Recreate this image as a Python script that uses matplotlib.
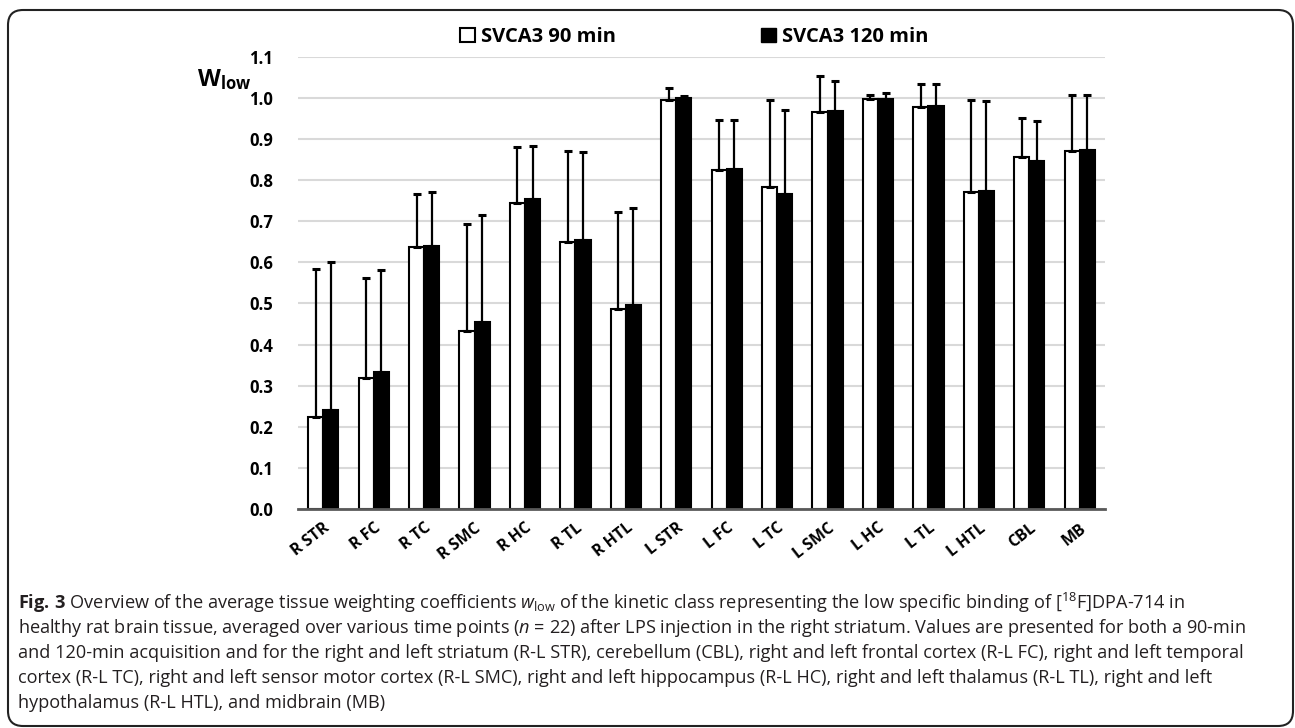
import numpy as np
import matplotlib
matplotlib.use('Agg')
import matplotlib.pyplot as plt
from matplotlib.patches import FancyBboxPatch, Patch

plt.rcParams['font.family'] = ['Open Sans', 'DejaVu Sans']
plt.rcParams['mathtext.fontset'] = 'custom'
plt.rcParams['mathtext.rm'] = 'Open Sans'
plt.rcParams['mathtext.it'] = 'Open Sans:italic'
plt.rcParams['mathtext.bf'] = 'Open Sans:bold'

regions = ['R STR', 'R FC', 'R TC', 'R SMC', 'R HC', 'R TL', 'R HTL',
           'L STR', 'L FC', 'L TC', 'L SMC', 'L HC', 'L TL', 'L HTL', 'CBL', 'MB']

w90 = [0.225, 0.318, 0.637, 0.432, 0.744, 0.649, 0.486,
       0.995, 0.825, 0.782, 0.965, 0.998, 0.978, 0.771, 0.857, 0.871]
sd90 = [0.358, 0.245, 0.130, 0.261, 0.136, 0.221, 0.237,
        0.028, 0.122, 0.212, 0.087, 0.009, 0.055, 0.224, 0.095, 0.137]

w120 = [0.240, 0.334, 0.640, 0.454, 0.754, 0.655, 0.495,
        1.000, 0.827, 0.765, 0.969, 0.997, 0.981, 0.774, 0.846, 0.872]
sd120 = [0.360, 0.247, 0.131, 0.260, 0.129, 0.214, 0.236,
         0.004, 0.118, 0.205, 0.072, 0.014, 0.052, 0.219, 0.097, 0.136]

series_labels = ['SVCA3 90 min', 'SVCA3 120 min']

fig = plt.figure(figsize=(12.95, 7.28), dpi=100)
ax = fig.add_axes([0.2301, 0.3008, 0.6232, 0.6213])

x = np.arange(len(regions))
bw = 0.3
ekw = dict(ecolor='black', elinewidth=1.6, capsize=2.8, capthick=2.2)

ax.bar(x - bw / 2, w90, bw, color='white', edgecolor='black', linewidth=1.5,
       yerr=[np.zeros(len(sd90)), sd90], error_kw=ekw, zorder=3)
ax.bar(x + bw / 2, w120, bw, color='black', edgecolor='black', linewidth=1.5,
       yerr=[np.zeros(len(sd120)), sd120], error_kw=ekw, zorder=3)

ax.set_xlim(-0.5, len(regions) - 0.5)
ax.set_ylim(0, 1.1)
ticks = np.arange(0, 1.11, 0.1)
ax.set_yticks(ticks)
ax.set_yticklabels([f'{v:.1f}' for v in ticks], fontsize=12, fontweight='bold')
ax.set_xticks(x)
ax.set_xticklabels(regions, fontsize=11.5, fontweight='bold', rotation=38,
                   ha='right', rotation_mode='anchor')
ax.tick_params(axis='both', length=0)
ax.tick_params(axis='y', pad=18)
ax.tick_params(axis='x', pad=8)
ax.grid(axis='y', color='#d9d9d9', linewidth=1.5, zorder=0)
ax.set_axisbelow(True)
for s in ['top', 'right', 'left']:
    ax.spines[s].set_visible(False)
ax.spines['bottom'].set_color('#595959')
ax.spines['bottom'].set_linewidth(2)
ax.spines['bottom'].set_zorder(4)

fig.text(0.152, 1 - 80 / 728, r'$\mathbf{W}_{\mathbf{low}}$', fontsize=17,
         va='center', ha='left')

handles = [Patch(facecolor='white', edgecolor='black', linewidth=1.5),
           Patch(facecolor='black', edgecolor='black')]
fig.legend(handles, series_labels, loc='center', ncol=2,
           bbox_to_anchor=(694 / 1295, 1 - 37 / 728), frameon=False,
           prop={'size': 14.5, 'weight': 'bold'}, columnspacing=7.2,
           handlelength=0.75, handleheight=0.75, handletextpad=0.3)

# caption
caption = [
    r'$\mathbf{Fig.\,3}$ Overview of the average tissue weighting coefficients $w_{\mathrm{low}}$ '
    r'of the kinetic class representing the low specific binding of [$^{18}$F]DPA-714 in',
    r'healthy rat brain tissue, averaged over various time points ($n$ = 22) after LPS injection '
    r'in the right striatum. Values are presented for both a 90-min',
    'and 120-min acquisition and for the right and left striatum (R-L STR), cerebellum (CBL), '
    'right and left frontal cortex (R-L FC), right and left temporal',
    'cortex (R-L TC), right and left sensor motor cortex (R-L SMC), right and left hippocampus '
    '(R-L HC), right and left thalamus (R-L TL), right and left',
    'hypothalamus (R-L HTL), and midbrain (MB)',
]
for i, line in enumerate(caption):
    fig.text(18 / 1295, 1 - (603 + i * 25) / 728, line, fontsize=13.1,
             va='center', ha='left', color='#231f20')

border = FancyBboxPatch((0.08, 0.02), 12.85, 7.16,
                        boxstyle='round,pad=0,rounding_size=0.15',
                        transform=fig.dpi_scale_trans, facecolor='none',
                        edgecolor='#222222', linewidth=1.5)
fig.patches.append(border)

fig.savefig('out.png', dpi=100)
